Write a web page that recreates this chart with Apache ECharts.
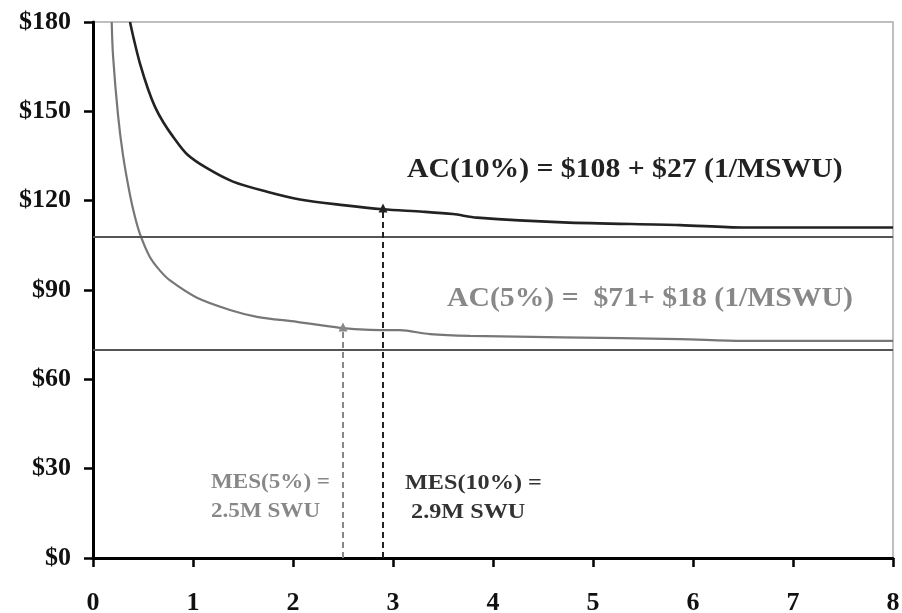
<!DOCTYPE html>
<html>
<head>
<meta charset="utf-8">
<title>Average cost vs MSWU</title>
<script src="https://cdn.jsdelivr.net/npm/echarts@6/dist/echarts.min.js"></script>
<style>
  html, body { margin: 0; padding: 0; background: #fff; }
  #chart { width: 902px; height: 613px; }
</style>
</head>
<body>
<div id="chart"></div>
<script>
// x ticks (MSWU) and y ticks ($)
var xTicks = [0, 1, 2, 3, 4, 5, 6, 7, 8];
var yTicks = [0, 30, 60, 90, 120, 150, 180];

// AC(10%) curve
var ac10X = [0.37, 0.41, 0.47, 0.55, 0.62, 0.70, 0.80, 0.94, 1.14, 1.40, 1.74, 2.07, 2.50, 2.90, 3.30, 3.60, 3.84, 4.70, 5.87, 6.50, 8.00];
var ac10Y = [180, 174.0, 166.0, 157.5, 151.5, 146.5, 141.5, 135.6, 130.9, 126.4, 123.0, 120.4, 118.5, 117.1, 116.3, 115.5, 114.3, 112.7, 111.8, 111.0, 111.0];

// AC(5%) curve
var ac5X = [0.187, 0.20, 0.25, 0.30, 0.37, 0.42, 0.47, 0.57, 0.67, 0.77, 1.04, 1.37, 1.64, 2.04, 2.47, 2.77, 3.07, 3.37, 3.77, 4.70, 5.87, 6.50, 8.00];
var ac5Y = [180, 168.9, 148.8, 135.3, 121.9, 114.5, 108.8, 101.0, 96.5, 93.2, 87.4, 83.3, 81.0, 79.3, 77.3, 76.6, 76.5, 75.2, 74.6, 74.1, 73.5, 72.9, 72.9];

// fixed cost floors
var floorCost = [108, 70];
// minimum efficient scale markers
var mesX = [2.5, 2.9];
var mesY = [77.6, 117.5];

var SERIF = "'Liberation Serif', 'Times New Roman', serif";

function pairs(xs, ys) {
  return xs.map(function (x, i) { return [x, ys[i]]; });
}

var myChart = echarts.init(document.getElementById('chart'), null, { renderer: 'canvas' });

var option = {
  animation: false,
  backgroundColor: '#fff',
  grid: {
    left: 93, right: 9, top: 22, bottom: 55,
    outerBoundsMode: 'none', containLabel: false,
    show: true, borderColor: '#aaa', borderWidth: 1.5, backgroundColor: '#fff'
  },
  xAxis: {
    type: 'value',
    min: xTicks[0], max: xTicks[xTicks.length - 1], interval: 1,
    splitLine: { show: false },
    axisLine: { show: true, lineStyle: { color: '#000', width: 3 } },
    axisTick: { show: true, inside: false, length: 9, lineStyle: { color: '#000', width: 2.5 } },
    axisLabel: { margin: 32, color: '#111', fontFamily: SERIF, fontWeight: 'bold', fontSize: 26 }
  },
  yAxis: {
    type: 'value',
    min: yTicks[0], max: yTicks[yTicks.length - 1], interval: 30,
    splitLine: { show: false },
    axisLine: { show: true, lineStyle: { color: '#000', width: 3 } },
    axisTick: { show: true, inside: false, length: 9, lineStyle: { color: '#000', width: 2.5 } },
    axisLabel: {
      margin: 22, color: '#111', fontFamily: SERIF, fontWeight: 'bold', fontSize: 26,
      formatter: function (v) { return '$' + v; }
    }
  },
  series: [
    {
      name: 'floors', type: 'line', data: [], silent: true,
      markLine: {
        silent: true, symbol: ['none', 'none'], label: { show: false },
        lineStyle: { color: '#555', width: 2, type: 'solid' },
        data: floorCost.map(function (v) { return { yAxis: v }; })
      }
    },
    {
      name: 'AC(5%)', type: 'line', data: pairs(ac5X, ac5Y),
      showSymbol: false, smooth: 0.3, silent: true,
      lineStyle: { color: '#777', width: 2.2 }
    },
    {
      name: 'AC(10%)', type: 'line', data: pairs(ac10X, ac10Y),
      showSymbol: false, smooth: 0.3, silent: true,
      lineStyle: { color: '#222', width: 2.6 }
    },
    {
      name: 'MES', type: 'line', data: [], silent: true,
      markLine: {
        silent: true, symbol: ['none', 'triangle'], symbolSize: [9, 9],
        label: { show: false },
        data: [
          [{ coord: [mesX[0], 0], lineStyle: { color: '#888', width: 2, type: [6, 4] }, itemStyle: { color: '#888' } },
           { coord: [mesX[0], mesY[0]] }],
          [{ coord: [mesX[1], 0], lineStyle: { color: '#222', width: 2, type: [6, 4] }, itemStyle: { color: '#222' } },
           { coord: [mesX[1], mesY[1]] }]
        ]
      }
    }
  ],
  graphic: [
    {
      type: 'text', left: 407, top: 157, scaleX: 1.1, silent: true,
      style: { text: 'AC(10%) = $108 + $27 (1/MSWU)', fill: '#222', font: 'bold 27px ' + SERIF }
    },
    {
      type: 'text', left: 447, top: 286, scaleX: 1.1, silent: true,
      style: { text: 'AC(5%) =  $71+ $18 (1/MSWU)', fill: '#888', font: 'bold 27px ' + SERIF }
    },
    {
      type: 'text', left: 211, top: 468, scaleX: 1.05, silent: true,
      style: { text: 'MES(5%) =\n2.5M SWU', fill: '#888', font: 'bold 22px ' + SERIF, lineHeight: 29 }
    },
    {
      type: 'text', left: 405, top: 469, scaleX: 1.1, silent: true,
      style: { text: 'MES(10%) =\n 2.9M SWU', fill: '#333', font: 'bold 22px ' + SERIF, lineHeight: 29 }
    }
  ]
};

myChart.setOption(option);
</script>
</body>
</html>
